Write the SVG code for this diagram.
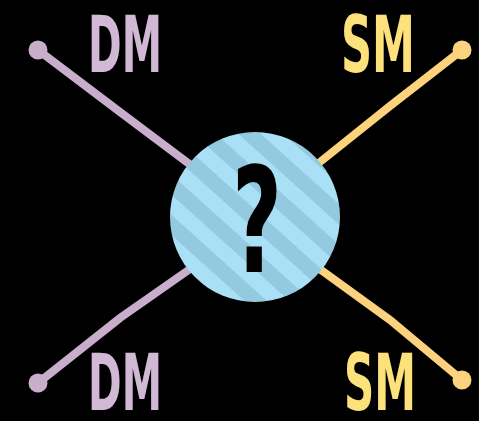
<svg xmlns="http://www.w3.org/2000/svg" width="479" height="421" viewBox="0 0 479 421">
<style>
.lbl{font-family:"DejaVu Sans Condensed","Liberation Sans Narrow",sans-serif;font-weight:bold;font-size:78px}
.dm{fill:#d1b9d5}
.sm{fill:#fde27c}
.pl{stroke:#c9aecb;stroke-width:8;stroke-linecap:round;fill:none}
.yl{stroke:#fdd27c;stroke-width:8;stroke-linecap:round;fill:none}
</style>
<defs>
<pattern id="stripes" patternUnits="userSpaceOnUse" width="30" height="30" patternTransform="rotate(42)">
<rect width="30" height="30" fill="#94cae0"/>
<rect width="30" height="15" fill="#a9e0f6"/>
</pattern>
</defs>
<rect width="479" height="421" fill="#000"/>
<g id="connectors">
<path class="pl" d="M38,50 L120,112 L200,172"/>
<circle cx="38" cy="50" r="9.5" fill="#c9aecb"/>
<path class="pl" d="M38,383 L120,318 L200,262"/>
<circle cx="38" cy="383" r="9.5" fill="#c9aecb"/>
<path class="yl" d="M462,50 L390,106 L310,170"/>
<circle cx="462" cy="50" r="9.5" fill="#fdd27c"/>
<path class="yl" d="M462,380 L390,320 L310,262"/>
<circle cx="462" cy="380" r="9.5" fill="#fdd27c"/>
</g>
<g id="center">
<circle cx="255" cy="217" r="85" fill="url(#stripes)"/>
<text x="257" y="272" text-anchor="middle" font-family="DejaVu Sans Condensed,sans-serif" font-weight="bold" font-size="146" fill="#000" textLength="50" lengthAdjust="spacingAndGlyphs">?</text>
</g>
<g id="dm-top"><text class="lbl dm" x="88" y="72" textLength="74" lengthAdjust="spacingAndGlyphs">DM</text></g>
<g id="sm-top"><text class="lbl sm" x="341" y="72" textLength="74" lengthAdjust="spacingAndGlyphs">SM</text></g>
<g id="dm-bottom"><text class="lbl dm" x="88" y="410" textLength="74" lengthAdjust="spacingAndGlyphs">DM</text></g>
<g id="sm-bottom"><text class="lbl sm" x="344" y="410" textLength="72" lengthAdjust="spacingAndGlyphs">SM</text></g>
</svg>
